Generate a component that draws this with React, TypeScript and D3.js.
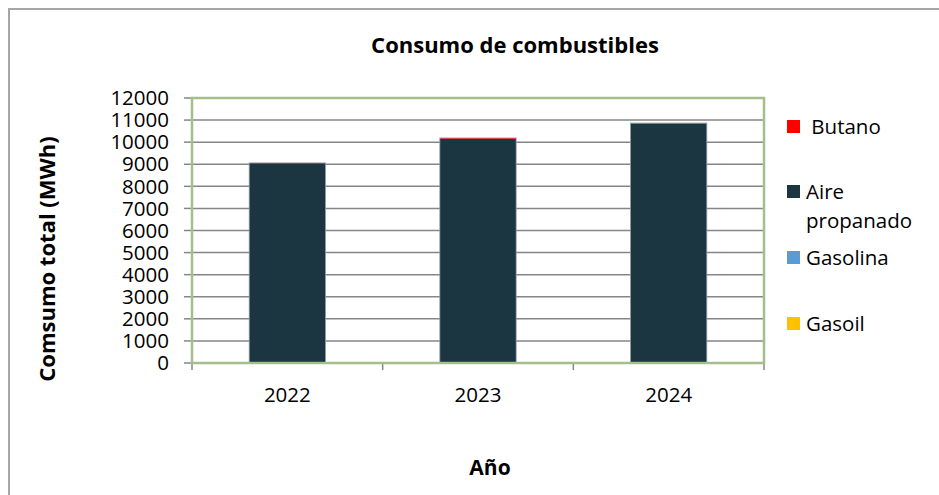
import React from "react";
import * as d3 from "d3";

const years = ["2022", "2023", "2024"];
const gasoil = [0, 0, 20];
const gasolina = [0, 0, 0];
const aire = [9050, 10150, 10830];
const butano = [10, 40, 15];
const yTicks = [0, 1000, 2000, 3000, 4000, 5000, 6000, 7000, 8000, 9000, 10000, 11000, 12000];

const seriesKeys = ["Gasoil", "Gasolina", "Aire propanado", "Butano"];
const colors: Record<string, string> = {
  Gasoil: "#ffc000",
  Gasolina: "#5b9bd5",
  "Aire propanado": "#1b3541",
  Butano: "#ff0000",
};

const FONT = "'Open Sans', 'Liberation Sans', sans-serif";

export default function App() {
  const W = 939, H = 495;
  const left = 192, right = 764, top = 98, bottom = 363;
  const rows = years.map((y, i) => ({
    year: y,
    Gasoil: gasoil[i],
    Gasolina: gasolina[i],
    "Aire propanado": aire[i],
    Butano: butano[i],
  }));
  const stack = d3.stack<any>().keys(seriesKeys)(rows);
  const x = d3.scaleBand().domain(years).range([left, right]).paddingInner(0.6).paddingOuter(0.3);
  const xOuter = d3.scaleBand().domain(years).range([left, right]);
  const y = d3.scaleLinear().domain([0, 12000]).range([bottom, top]);

  const legend = [
    { key: "Butano", lines: [" Butano"], sy: 120 },
    { key: "Aire propanado", lines: ["Aire", "propanado"], sy: 185 },
    { key: "Gasolina", lines: ["Gasolina"], sy: 251 },
    { key: "Gasoil", lines: ["Gasoil"], sy: 317 },
  ];

  return (
    <svg width={W} height={H} style={{ position: "absolute", left: 0, top: 0, background: "#fff" }} fontFamily={FONT}>
      <rect x={9} y={9} width={1000} height={600} fill="#fff" stroke="#a6a6a6" strokeWidth={2} />
      <text x={515} y={53} textAnchor="middle" fontSize={22} fontWeight="bold" fill="#000">
        Consumo de combustibles
      </text>
      {yTicks.map((t) => (
        <g key={t}>
          <line x1={left} x2={right} y1={y(t)} y2={y(t)} stroke="#868686" strokeWidth={1.5} />
          <line x1={184} x2={left} y1={y(t)} y2={y(t)} stroke="#868686" strokeWidth={1.5} />
          <text x={169} y={y(t)} dy="0.35em" textAnchor="end" fontSize={20.5} fill="#000">
            {t}
          </text>
        </g>
      ))}
      {[...years.map((yr) => xOuter(yr) as number), right].map((v, i) => (
        <line key={i} x1={v} x2={v} y1={bottom} y2={bottom + 7} stroke="#868686" strokeWidth={1.5} />
      ))}
      {stack.map((s) => (
        <g key={s.key}>
          {s.map((d, i) => {
            const h = y(d[0]) - y(d[1]);
            if (h <= 0) return null;
            return (
              <rect
                key={i}
                x={x(years[i])}
                y={y(d[1])}
                width={x.bandwidth()}
                height={h}
                fill={colors[s.key]}
              />
            );
          })}
        </g>
      ))}
      {years.map((yr, i) => {
        const tot = gasoil[i] + gasolina[i] + aire[i] + butano[i];
        return (
          <rect
            key={yr}
            x={x(yr)}
            y={y(tot)}
            width={x.bandwidth()}
            height={y(0) - y(tot)}
            fill="none"
            stroke="#8d9ba3"
            strokeWidth={0.8}
          />
        );
      })}
      <rect x={left} y={top} width={right - left} height={bottom - top} fill="none" stroke="#a5bf8c" strokeWidth={2.5} />
      {years.map((yr) => (
        <text key={yr} x={(x(yr) as number) + x.bandwidth() / 2} y={402} textAnchor="middle" fontSize={20.5} fill="#000">
          {yr}
        </text>
      ))}
      <text x={490} y={475} textAnchor="middle" fontSize={21} fontWeight="bold" fill="#000">
        Año
      </text>
      <text
        transform={`translate(55, 259) rotate(-90)`}
        textAnchor="middle"
        fontSize={22}
        fontWeight="bold"
        fill="#000"
      >
        Comsumo total (MWh)
      </text>
      {legend.map((l) => (
        <g key={l.key}>
          <rect x={787} y={l.sy} width={13} height={13} fill={colors[l.key]} />
          {l.lines.map((ln, j) => (
            <text key={j} x={806} y={l.sy + 14 + j * 29} fontSize={20.5} fill="#000" style={{ whiteSpace: "pre" }}>
              {ln}
            </text>
          ))}
        </g>
      ))}
    </svg>
  );
}
